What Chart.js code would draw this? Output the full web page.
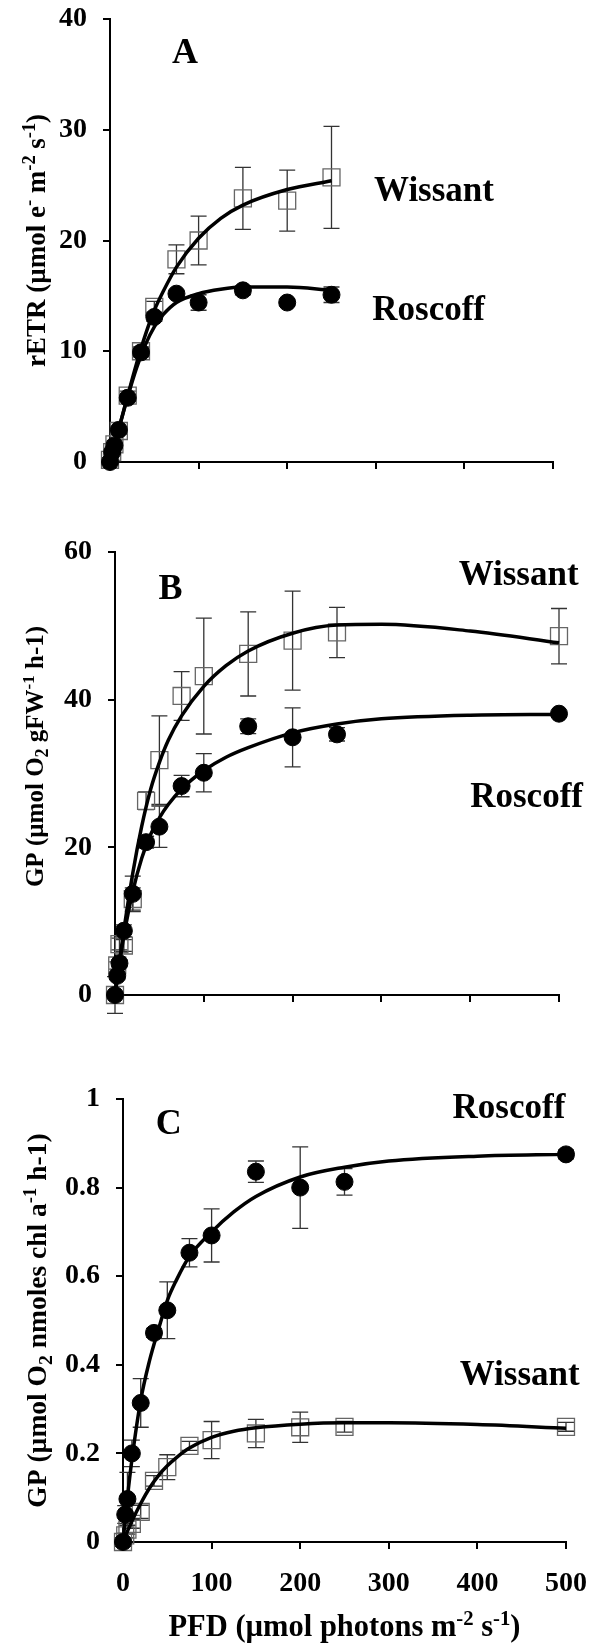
<!DOCTYPE html>
<html><head><meta charset="utf-8">
<script src="https://cdn.jsdelivr.net/npm/chart.js@4/dist/chart.umd.min.js"></script>
<style>
html,body{margin:0;padding:0;background:#fff;}
#wrap{position:relative;width:593px;height:1650px;overflow:hidden;}
canvas{position:absolute;left:0;}
</style></head><body>
<div id="wrap">
<canvas id="cA" width="593" height="500" style="top:0px;width:593px;height:500px"></canvas>
<canvas id="cB" width="593" height="560" style="top:500px;width:593px;height:560px"></canvas>
<canvas id="cC" width="593" height="590" style="top:1060px;width:593px;height:590px"></canvas>
</div>
<script>
// ---------- data ----------
const pfdA = [0, 2.5, 5, 10, 20, 35, 50, 75, 100, 150, 200, 250];
const etrRoscoff      = [0, 0.9, 1.5, 2.9, 5.8, 9.9, 13.1, 15.2, 14.4, 15.5, 14.4, 15.1];
const etrRoscoffErr   = [0.2, 0.2, 0.2, 0.3, 0.3, 0.4, 0.4, 0.3, 0.7, 0.4, 0.3, 0.7];
const etrWissant      = [0.2, 0.9, 1.6, 2.8, 6.0, 10.0, 14.0, 18.3, 20.0, 23.8, 23.6, 25.7];
const etrWissantErr   = [0.2, 0.2, 0.3, 0.3, 0.4, 0.4, 0.5, 1.3, 2.2, 2.8, 2.75, 4.6];
const fitXA           = [0, 5, 10, 20, 30, 40, 50, 60, 75, 100, 125, 150, 200, 250];
const etrFitWissant   = [0, 1.5, 3.0, 6.0, 8.9, 11.5, 13.7, 15.4, 17.6, 20.2, 22.0, 23.2, 24.6, 25.4];
const etrFitRoscoff   = [0, 1.5, 3.0, 5.9, 8.5, 10.6, 12.2, 13.3, 14.4, 15.2, 15.6, 15.8, 15.8, 15.5];

const pfd = [0, 2.5, 5, 10, 20, 35, 50, 75, 100, 150, 200, 250, 500];
const gpFwRoscoff     = [0, 2.6, 4.3, 8.7, 13.7, 20.7, 22.8, 28.3, 30.1, 36.4, 34.9, 35.3, 38.1];
const gpFwRoscoffErr  = [2.5, 0.5, 0.5, 0.8, 2.4, 0.8, 2.8, 1.45, 2.6, 1.0, 4.0, 0.9, 0.3];
const gpFwWissant     = [0, 4.0, 6.9, 6.7, 13.0, 26.3, 31.8, 40.5, 43.2, 46.2, 48.0, 49.1, 48.6];
const gpFwWissantErr  = [0.5, 0.5, 0.8, 0.8, 1.5, 1.2, 6.0, 3.3, 7.85, 5.7, 6.7, 3.4, 3.75];
const fitX            = [0, 5, 10, 20, 30, 40, 50, 60, 75, 100, 125, 150, 200, 250, 300, 400, 500];
const gpFwFitWissant  = [0, 4.5, 8.8, 16.5, 22.8, 27.8, 31.5, 34.5, 37.8, 41.8, 44.6, 46.6, 49.0, 50.1, 50.2, 49.3, 47.7];
const gpFwFitRoscoff  = [0, 4.2, 8.0, 14.0, 18.5, 21.7, 24.0, 25.8, 27.9, 30.4, 32.2, 33.5, 35.5, 36.7, 37.4, 37.9, 38.0];

const gpChlRoscoff    = [0, 0.062, 0.097, 0.20, 0.314, 0.472, 0.523, 0.653, 0.692, 0.836, 0.800, 0.813, 0.875];
const gpChlRoscoffErr = [0.01, 0.02, 0.06, 0.03, 0.055, 0.01, 0.064, 0.032, 0.06, 0.024, 0.092, 0.03, 0.01];
const gpChlWissant    = [0, 0.015, 0.028, 0.041, 0.068, 0.138, 0.169, 0.217, 0.23, 0.245, 0.259, 0.26, 0.26];
const gpChlWissantErr = [0.005, 0.005, 0.01, 0.01, 0.015, 0.012, 0.028, 0.01, 0.042, 0.032, 0.034, 0.012, 0.01];
const gpChlFitRoscoff = [0, 0.10, 0.185, 0.32, 0.41, 0.48, 0.545, 0.59, 0.645, 0.70, 0.745, 0.78, 0.824, 0.846, 0.86, 0.871, 0.875];
const gpChlFitWissant = [0, 0.024, 0.047, 0.087, 0.122, 0.15, 0.172, 0.19, 0.212, 0.236, 0.25, 0.258, 0.266, 0.269, 0.269, 0.265, 0.257];

const xTickStep = 100;
// ---------- styling ----------
const FONT = '"Liberation Serif", "Times New Roman", serif';
const W = 593;

function pts(xs, ys) { return xs.map((x, i) => ({x: x, y: ys[i]})); }

function drawRich(ctx, segs, size, cx, cy, rotated) {
  ctx.save();
  ctx.translate(cx, cy);
  if (rotated) ctx.rotate(-Math.PI / 2);
  let total = 0;
  const parts = segs.map(([t, k]) => {
    const fs = k === 'sup' ? size * 0.68 : (k === 'sub' ? size * 0.72 : size);
    ctx.font = 'bold ' + fs + 'px ' + FONT;
    const w = ctx.measureText(t).width;
    total += w;
    return {t, k, fs, w};
  });
  let x = -total / 2;
  ctx.textAlign = 'left';
  ctx.textBaseline = 'alphabetic';
  ctx.fillStyle = '#000';
  parts.forEach(p => {
    ctx.font = 'bold ' + p.fs + 'px ' + FONT;
    const dy = p.k === 'sup' ? -size * 0.36 : (p.k === 'sub' ? size * 0.2 : 0);
    ctx.fillText(p.t, x, dy + size * 0.33);
    x += p.w;
  });
  ctx.restore();
}

const errorBarPlugin = {
  id: 'errorBars',
  beforeDatasetsDraw(chart) {
    const ctx = chart.ctx, xs = chart.scales.x, ys = chart.scales.y;
    chart.data.datasets.forEach(ds => {
      if (!ds.errors) return;
      ctx.save();
      ctx.strokeStyle = '#333';
      ctx.lineWidth = 1.3;
      ds.data.forEach((p, i) => {
        const e = ds.errors[i];
        if (!e) return;
        const px = xs.getPixelForValue(p.x);
        const y1 = ys.getPixelForValue(p.y + e), y2 = ys.getPixelForValue(p.y - e);
        ctx.beginPath();
        ctx.moveTo(px, y1); ctx.lineTo(px, y2);
        ctx.moveTo(px - 8, y1); ctx.lineTo(px + 8, y1);
        ctx.moveTo(px - 8, y2); ctx.lineTo(px + 8, y2);
        ctx.stroke();
      });
      ctx.restore();
    });
  }
};

const textPlugin = {
  id: 'panelText',
  afterDraw(chart, args, opts) {
    const ctx = chart.ctx, xs = chart.scales.x, ys = chart.scales.y, a = chart.chartArea;
    (opts.labels || []).forEach(l => {
      ctx.save();
      ctx.font = 'bold ' + l.size + 'px ' + FONT;
      ctx.fillStyle = '#000';
      ctx.textAlign = 'left';
      ctx.textBaseline = 'alphabetic';
      ctx.fillText(l.text, xs.getPixelForValue(l.x), ys.getPixelForValue(l.y));
      ctx.restore();
    });
    if (opts.yTitle) drawRich(ctx, opts.yTitle, opts.yTitleSize, opts.yTitleX, (a.top + a.bottom) / 2 + (opts.yTitleShift || 0), true);
    if (opts.xTitle) drawRich(ctx, opts.xTitle, opts.xTitleSize, (a.left + a.right) / 2, opts.xTitleY, false);
  }
};

function makePanel(id, H, area, yMin, yMax, yStep, showXLabels, series, text) {
  const grid = {drawOnChartArea: false, drawTicks: true, tickLength: 7, color: '#000', lineWidth: 2};
  const border = {display: true, color: '#000', width: 2};
  const tickFont = {family: FONT, size: 28, weight: 'bold'};
  new Chart(document.getElementById(id), {
    type: 'scatter',
    data: {datasets: [
      {label: 'Roscoff', data: pts(series.x, series.roscoff), errors: series.roscoffErr,
       pointStyle: 'circle', pointRadius: 8.5, pointBackgroundColor: '#000', pointBorderColor: '#000',
       pointBorderWidth: 1, showLine: false, order: 0, clip: false},
      {label: 'Roscoff fit', data: pts(series.fitX, series.roscoffFit), showLine: true, pointRadius: 0,
       borderColor: '#000', borderWidth: 3.5, cubicInterpolationMode: 'monotone', order: 1, clip: false},
      {label: 'Wissant fit', data: pts(series.fitX, series.wissantFit), showLine: true, pointRadius: 0,
       borderColor: '#000', borderWidth: 3.5, cubicInterpolationMode: 'monotone', order: 1, clip: false},
      {label: 'Wissant', data: pts(series.x, series.wissant), errors: series.wissantErr,
       pointStyle: 'rect', pointRadius: 12, pointBackgroundColor: 'rgba(0,0,0,0)', pointBorderColor: '#666',
       pointBorderWidth: 1.3, showLine: false, order: 2, clip: false}
    ]},
    options: {
      responsive: false, animation: false, devicePixelRatio: 1,
      layout: {padding: {left: 0, top: area.top, right: W - area.right, bottom: 0}},
      plugins: {legend: {display: false}, tooltip: {enabled: false}, panelText: text},
      scales: {
        x: {type: 'linear', min: 0, max: 500, grid: grid, border: border,
          ticks: {stepSize: xTickStep, display: showXLabels, color: '#000', padding: 18, maxRotation: 0, font: tickFont},
          afterFit: s => { s.height = H - area.bottom; s.paddingLeft = 0; s.paddingRight = 0; }},
        y: {type: 'linear', min: yMin, max: yMax, grid: grid, border: border,
          ticks: {stepSize: yStep, color: '#000', padding: 16, font: tickFont,
                  callback: v => String(Number(v.toFixed(2)))},
          afterFit: s => { s.width = area.left; s.paddingTop = 0; s.paddingBottom = 0; }}
      }
    },
    plugins: [errorBarPlugin, textPlugin]
  });
}

makePanel('cA', 500, {left: 110, right: 553, top: 19, bottom: 462}, 0, 40, 10, false,
  {x: pfdA, roscoff: etrRoscoff, roscoffErr: etrRoscoffErr, wissant: etrWissant, wissantErr: etrWissantErr,
   fitX: fitXA, roscoffFit: etrFitRoscoff, wissantFit: etrFitWissant},
  {labels: [{text: 'A', x: 70, y: 36.0, size: 36}, {text: 'Wissant', x: 298, y: 23.6, size: 35}, {text: 'Roscoff', x: 296, y: 12.8, size: 35}],
   yTitleSize: 27, yTitleX: 36,
   yTitle: [['rETR (µmol e', ''], ['-', 'sup'], [' m', ''], ['-2', 'sup'], [' s', ''], ['-1', 'sup'], [')', '']]});

makePanel('cB', 560, {left: 115, right: 559, top: 52, bottom: 495}, 0, 60, 20, false,
  {x: pfd, roscoff: gpFwRoscoff, roscoffErr: gpFwRoscoffErr, wissant: gpFwWissant, wissantErr: gpFwWissantErr,
   fitX: fitX, roscoffFit: gpFwFitRoscoff, wissantFit: gpFwFitWissant},
  {labels: [{text: 'B', x: 49, y: 53.6, size: 36}, {text: 'Wissant', x: 387, y: 55.5, size: 35}, {text: 'Roscoff', x: 400, y: 25.5, size: 35}],
   yTitleSize: 25, yTitleX: 35, yTitleShift: -17,
   yTitle: [['GP (µmol O', ''], ['2', 'sub'], [' gFW', ''], ['-1', 'sup'], [' h-1)', '']]});

makePanel('cC', 590, {left: 123, right: 566, top: 39, bottom: 482}, 0, 1, 0.2, true,
  {x: pfd, roscoff: gpChlRoscoff, roscoffErr: gpChlRoscoffErr, wissant: gpChlWissant, wissantErr: gpChlWissantErr,
   fitX: fitX, roscoffFit: gpChlFitRoscoff, wissantFit: gpChlFitWissant},
  {labels: [{text: 'C', x: 37, y: 0.921, size: 36}, {text: 'Roscoff', x: 372, y: 0.956, size: 35}, {text: 'Wissant', x: 380, y: 0.354, size: 35}],
   yTitleSize: 27.5, yTitleX: 37, xTitleSize: 30.5, xTitleY: 566,
   yTitle: [['GP (µmol O', ''], ['2', 'sub'], [' nmoles chl a', ''], ['-1', 'sup'], [' h-1)', '']],
   xTitle: [['PFD (µmol photons m', ''], ['-2', 'sup'], [' s', ''], ['-1', 'sup'], [')', '']]});
</script>
</body></html>
